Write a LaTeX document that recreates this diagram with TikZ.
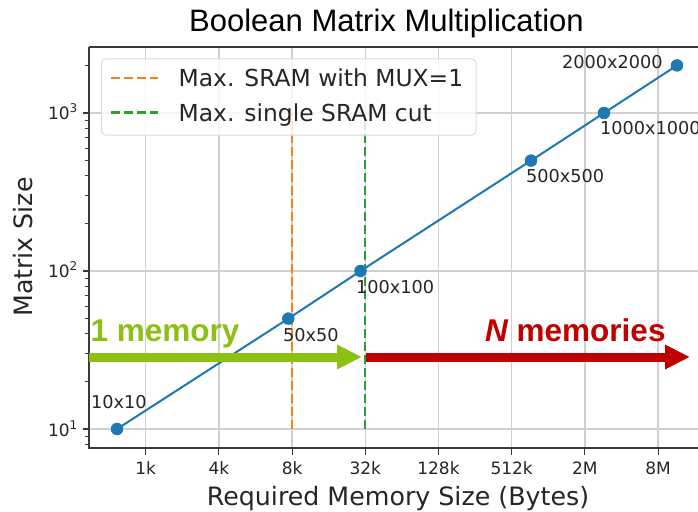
\documentclass[tikz,border=0pt]{standalone}
\usepackage{fontspec}
\setmainfont{DejaVu Sans}
\newfontfamily\arialfont{Liberation Sans}
\usetikzlibrary{arrows.meta}
\definecolor{mplblue}{HTML}{1F77B4}
\definecolor{mplorange}{HTML}{FF7F0E}
\definecolor{mplgreen}{HTML}{2CA02C}
\definecolor{gridgray}{HTML}{D0D0D0}
\definecolor{legendedge}{HTML}{DCDCDC}
\definecolor{spinegray}{HTML}{3A3A3A}
\definecolor{onegreen}{RGB}{140,192,18}
\definecolor{nred}{HTML}{C00000}
\definecolor{txt}{HTML}{262626}
\newcommand{\fs}[1]{\fontsize{#1}{#1}\selectfont}
\tikzset{
  gridline/.style={gridgray, line width=1.4pt},
  spine/.style={spinegray, line width=1.3pt},
  tickmark/.style={spinegray, line width=1.1pt},
  ticklab/.style={text=txt, inner sep=0pt, font=\fs{17}},
  ptlab/.style={text=txt, inner sep=0pt, font=\fs{17.7}, anchor=base west},
  axlab/.style={text=txt, inner sep=0pt, font=\fs{25.3}},
  vdash/.style={line width=2.3pt, dash pattern=on 9pt off 4pt},
  dataline/.style={mplblue, line width=2pt},
  marker/.style={circle, fill=mplblue, minimum size=12.5pt, inner sep=0pt},
  legtext/.style={text=txt, inner sep=0pt, font=\fs{23.4}, anchor=base west},
  bigarrow/.style={line width=9pt, -{Triangle[length=25pt,width=23pt]}},
  annot/.style={inner sep=0pt, anchor=base west, font=\arialfont\bfseries\fs{31.5}}
}
\begin{document}
\begin{tikzpicture}[x=1pt,y=-1pt]
\useasboundingbox (0,0) rectangle (698,511);
\fill[white] (0,0) rectangle (698,511);

% grid
\foreach \x in {145.7,218.9,292.1,365.3,438.5,511.7,584.9,658.1}
  \draw[gridline] (\x,47) -- (\x,448);
\foreach \y in {113,271,429}
  \draw[gridline] (89,\y) -- (698,\y);

% vertical dashed limits
\coordinate (oB) at (292.1,429);
\coordinate (oT) at (292.1,113);
\coordinate (gB) at (365.3,429);
\coordinate (gT) at (365.3,113);
\draw[vdash, mplorange] (oB) -- (oT);
\draw[vdash, mplgreen] (gB) -- (gT);

% data
\coordinate (p1) at (117,429);
\coordinate (p2) at (288.3,318.6);
\coordinate (p3) at (360.5,271);
\coordinate (p4) at (531,160.6);
\coordinate (p5) at (604,113);
\coordinate (p6) at (677,65.4);
\draw[dataline] (p1) -- (p2) -- (p3) -- (p4) -- (p5) -- (p6);
\foreach \i in {1,...,6} \node[marker] (m\i) at (p\i) {};

\node[ptlab] (l1) at (91,408) {10x10};
\node[ptlab] (l2) at (283,341) {50x50};
\node[ptlab] (l3) at (356,293) {100x100};
\node[ptlab] (l4) at (526,182.7) {500x500};
\node[ptlab] (l5) at (600,134) {1000x1000};
\node[ptlab] (l6) at (562,68) {2000x2000};

% spines
\draw[spine] (89,47) -- (698,47);
\draw[spine] (89,47) -- (89,448) -- (698,448);

% x ticks
\foreach \x/\t in {145.7/1k,218.9/4k,292.1/8k,365.3/32k,438.5/128k,511.7/512k,584.9/2M,658.1/8M}{
  \draw[tickmark] (\x,448) -- (\x,454.5);
  \node[ticklab, anchor=base] (xt\t) at (\x,474) {\t};
}
% y ticks
\foreach \y in {113,271,429} \draw[tickmark] (89,\y) -- (82.5,\y);
\foreach \m in {2,...,9} {
  \draw[tickmark] (89,{429-158*log10(\m)}) -- ++(-3.8,0);
  \draw[tickmark] (89,{271-158*log10(\m)}) -- ++(-3.8,0);
}
\draw[tickmark] (89,444.3) -- ++(-3.8,0);
\draw[tickmark] (89,436.2) -- ++(-3.8,0);
\draw[tickmark] (89,65.4) -- ++(-3.8,0);
\node[ticklab, anchor=base east] (yt1) at (77.5,436) {10\raisebox{7pt}{\fs{12}1}};
\node[ticklab, anchor=base east] (yt2) at (77.5,277.5) {10\raisebox{7pt}{\fs{12}2}};
\node[ticklab, anchor=base east] (yt3) at (77.5,119.5) {10\raisebox{7pt}{\fs{12}3}};

% axis labels and title
\node[axlab, anchor=base] (xlab) at (398,505.5) {Required Memory Size (Bytes)};
\node[axlab, anchor=base, rotate=90] (ylab) at (32.5,247) {Matrix Size};
\node[inner sep=0pt, anchor=base, font=\arialfont\fs{31}] (title) at (386.5,31.7) {Boolean Matrix Multiplication};

% legend
\node[draw=legendedge, line width=1pt, fill=white, fill opacity=0.8, rounded corners=4pt,
      minimum width=374.5pt, minimum height=76pt, anchor=north west, outer sep=0pt, inner sep=0pt] (legend) at (101.5,59) {};
\coordinate (lo1) at (111,78);
\coordinate (lo2) at (158,78);
\coordinate (lg1) at (111,112.5);
\coordinate (lg2) at (158,112.5);
\draw[vdash, mplorange] (lo1) -- (lo2);
\draw[vdash, mplgreen] (lg1) -- (lg2);
\node[legtext] (leg1) at (178.5,86.7) {Max. SRAM with MUX=1};
\node[legtext] (leg2) at (178.5,121.5) {Max. single SRAM cut};

% overlay arrows
\coordinate (a1s) at (89,357);
\coordinate (a1e) at (362,357);
\coordinate (a2s) at (365.5,357);
\coordinate (a2e) at (690,357);
\draw[bigarrow, onegreen] (a1s) -- (a1e);
\draw[bigarrow, nred] (a2s) -- (a2e);
\node[annot, text=onegreen] (one) at (90.5,341) {1 memory};
\node[annot, text=nred] (nmem) at (485,341) {\itshape N\upshape{} memories};
\end{tikzpicture}
\end{document}
